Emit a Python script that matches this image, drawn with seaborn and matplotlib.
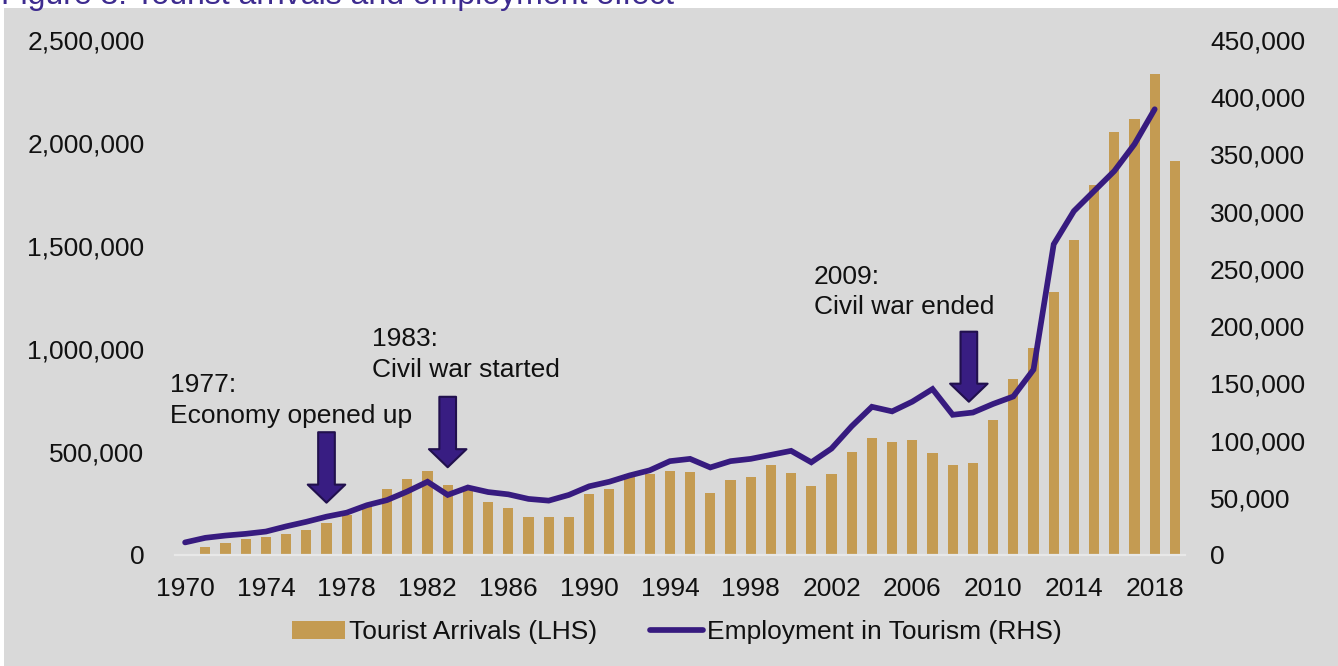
import matplotlib
matplotlib.use("Agg")
import matplotlib.pyplot as plt
from matplotlib.patches import Rectangle, Patch
from matplotlib.lines import Line2D
from matplotlib.ticker import FuncFormatter, FixedLocator, MultipleLocator
import pandas as pd
import seaborn as sns

# ---- data -------------------------------------------------------------
arrival_years = list(range(1971, 2020))
tourist_arrivals = [
    40000, 56000, 78000, 85000, 103000, 119000, 154000, 193000, 250000, 322000,
    371000, 407000, 338000, 318000, 257000, 230000, 183000, 183000, 185000, 298000,
    318000, 394000, 392000, 408000, 403000, 302000, 366000, 381000, 436000, 400000,
    337000, 393000, 501000, 566000, 549000, 560000, 494000, 438000, 448000, 654000,
    856000, 1006000, 1275000, 1527000, 1798000, 2051000, 2116000, 2334000, 1914000,
]

employment_years = list(range(1970, 2019))
tourism_employment = [
    11000, 15000, 17000, 18500, 20500, 25000, 29000, 33500, 37000, 43500,
    48000, 55500, 64000, 52500, 59000, 55000, 53000, 49000, 47500, 52500,
    60000, 64000, 69500, 74000, 82000, 84000, 76500, 82000, 84000, 87500,
    91000, 81000, 93000, 112500, 129500, 125500, 134000, 145000, 122500, 124500,
    132000, 138500, 162000, 271500, 300500, 318000, 335500, 359000, 389500,
]

year_ticks = list(range(1970, 2019, 4))
series_labels = ["Tourist Arrivals (LHS)", "Employment in Tourism (RHS)"]
title_text = "Figure 3: Tourist arrivals and employment effect"

# (label lines, text x, text baselines y on LHS scale, arrow x, arrow tip, arrow tail)
events = [
    (["1977:", "Economy opened up"], 1969.23, [792000, 642000], 1977.0, 254000, 596000),
    (["1983:", "Civil war started"], 1979.26, [1014000, 864000], 1983.0, 426000, 768000),
    (["2009:", "Civil war ended"], 2001.13, [1315000, 1170000], 2008.8, 744000, 1084000),
]

# ---- style ------------------------------------------------------------
PANEL = "#d9d9d9"
BAR = "#c49b52"
LINE = "#371b7f"
ARROW_FILL = "#381d82"
ARROW_EDGE = "#21104d"
TITLE = "#3d2b8f"
TEXT = "#111111"
FS = 19
LW = 4.1

sns.set_style("white")
plt.rcParams["font.family"] = ["Liberation Sans", "DejaVu Sans"]

W, H = 1338, 666
fig = plt.figure(figsize=(W / 100, H / 100), dpi=100)
fig.patch.set_facecolor("white")
fig.add_artist(Rectangle((4 / W, 0), 1, (H - 8) / H, transform=fig.transFigure,
                         facecolor=PANEL, edgecolor="none", zorder=-10))

ax = fig.add_axes([175 / W, 111 / H, 1010 / W, 515 / H])
ax.set_facecolor(PANEL)

bars = pd.DataFrame({"year": arrival_years, "arrivals": tourist_arrivals})
sns.barplot(data=bars, x="year", y="arrivals", native_scale=True, width=0.5,
            color=BAR, saturation=1, errorbar=None, linewidth=0, ax=ax)

ax.set_xlim(1969.5, 2019.5)
ax.set_ylim(0, 2_500_000)
ax.xaxis.set_major_locator(FixedLocator(year_ticks))
ax.set_xticklabels([str(y) for y in year_ticks])
ax.yaxis.set_major_locator(MultipleLocator(500_000))
ax.yaxis.set_major_formatter(FuncFormatter(lambda v, p: f"{int(v):,}"))
ax.tick_params(axis="both", length=0, labelsize=FS, labelcolor=TEXT)
ax.tick_params(axis="y", pad=22)
ax.tick_params(axis="x", pad=16)
ax.set_xlabel("")
ax.set_ylabel("")
ax.grid(False)
for name, sp in ax.spines.items():
    sp.set_visible(name == "bottom")
ax.spines["bottom"].set_color("#e8e8e8")
ax.spines["bottom"].set_linewidth(1.6)

ax2 = ax.twinx()
sns.lineplot(x=employment_years, y=tourism_employment, ax=ax2, color=LINE,
             linewidth=LW, solid_capstyle="round", solid_joinstyle="miter")
ax2.set_ylim(0, 450_000)
ax2.yaxis.set_major_locator(MultipleLocator(50_000))
ax2.yaxis.set_major_formatter(FuncFormatter(lambda v, p: f"{int(v):,}"))
ax2.tick_params(axis="y", length=0, pad=18, labelsize=FS, labelcolor=TEXT)
ax2.set_ylabel("")
ax2.grid(False)
for sp in ax2.spines.values():
    sp.set_visible(False)

# event markers: block arrows and two-line captions
for lines, tx, tys, axx, tip, tail in events:
    ax2.annotate("", xy=(axx, tip), xytext=(axx, tail),
                 xycoords=ax.transData, textcoords=ax.transData,
                 arrowprops=dict(width=12, headwidth=27, headlength=13, shrink=0,
                                 facecolor=ARROW_FILL, edgecolor=ARROW_EDGE,
                                 linewidth=1.5))
    for s, ty in zip(lines, tys):
        ax2.text(tx, ty, s, transform=ax.transData, fontsize=FS, color=TEXT,
                 ha="left", va="baseline")

handles = [Patch(facecolor=BAR, edgecolor="none"),
           Line2D([0], [0], color=LINE, linewidth=LW, solid_capstyle="round")]
fig.legend(handles, series_labels, loc="center", bbox_to_anchor=(677 / W, 34 / H),
           ncol=2, frameon=False, fontsize=FS, handlelength=2.0,
           handletextpad=0.15, columnspacing=2.0, labelcolor=TEXT)

# heading sits at the very top edge of the figure
fig.text(1 / W, (H - 4) / H, title_text, color=TITLE, fontsize=23,
         ha="left", va="baseline")

fig.savefig("out.png", dpi=100, facecolor=fig.get_facecolor())
